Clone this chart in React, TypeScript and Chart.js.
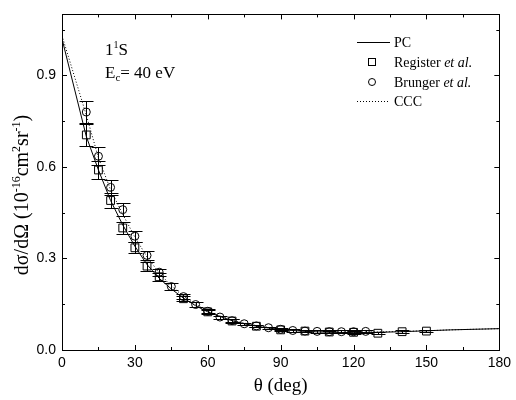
import React, { useEffect, useRef } from 'react';
import { Chart, registerables } from 'chart.js';
Chart.register(...registerables);

// ---- data ----
const pcAngles = [0, 10, 15, 20, 25, 30, 35, 40, 45, 50, 55, 60, 65, 70, 75, 80, 85, 90, 100, 110, 120, 130, 140, 150, 160, 170, 180];
const pcValues = [1.02, 0.70, 0.59, 0.49, 0.41, 0.34, 0.28, 0.235, 0.20, 0.17, 0.145, 0.125, 0.11, 0.096, 0.086, 0.078, 0.072, 0.067, 0.061, 0.058, 0.057, 0.058, 0.06, 0.063, 0.066, 0.068, 0.07];

const cccAngles = [0, 10, 15, 20, 25, 30, 35, 40, 45, 50, 55, 60, 65, 70, 75, 80, 85, 90, 100, 110, 120, 130, 140, 150, 160, 170, 180];
const cccValues = [1.03, 0.77, 0.63, 0.525, 0.445, 0.37, 0.305, 0.253, 0.21, 0.176, 0.15, 0.128, 0.112, 0.098, 0.088, 0.08, 0.074, 0.068, 0.063, 0.06, 0.059, 0.059, 0.061, 0.063, 0.066, 0.068, 0.07];

const registerAngles = [10, 15, 20, 25, 30, 35, 40, 50, 60, 70, 80, 90, 100, 110, 120, 130, 140, 150];
const registerValues = [0.705, 0.59, 0.49, 0.40, 0.335, 0.275, 0.24, 0.168, 0.125, 0.095, 0.078, 0.066, 0.062, 0.059, 0.058, 0.055, 0.06, 0.062];
const registerErrors = [0.037, 0.03, 0.025, 0.021, 0.018, 0.015, 0.013, 0.009, 0.007, 0.005, 0.004, 0.004, 0.004, 0.004, 0.004, 0.004, 0.004, 0.004];

const brungerAngles = [10, 15, 20, 25, 30, 35, 40, 45, 50, 55, 60, 65, 70, 75, 80, 85, 90, 95, 100, 105, 110, 115, 120, 125];
const brungerValues = [0.78, 0.635, 0.533, 0.46, 0.373, 0.31, 0.255, 0.208, 0.175, 0.149, 0.127, 0.108, 0.096, 0.086, 0.079, 0.073, 0.068, 0.064, 0.062, 0.061, 0.06, 0.06, 0.06, 0.061];
const brungerErrors = [0.036, 0.029, 0.025, 0.022, 0.018, 0.015, 0.012, 0.01, 0.009, 0.007, 0.006, 0.005, 0.005, 0.004, 0.004, 0.004, 0.004, 0.004, 0.004, 0.004, 0.004, 0.004, 0.004, 0.004];

const xMajorTicks = [0, 30, 60, 90, 120, 150, 180];
const xMinorTicks = [15, 45, 75, 105, 135, 165];
const yMajorTicks = [0, 0.3, 0.6, 0.9];
const yMinorTicks = [0.15, 0.45, 0.75, 1.05];

const SERIF = '"Liberation Serif", "DejaVu Serif", serif';
const SANS = '"Liberation Sans", Arial, sans-serif';

const zip = (xs: number[], ys: number[]) => xs.map((x, i) => ({ x, y: ys[i] }));

const drawRich = (ctx: CanvasRenderingContext2D, parts: { t: string; size: number; dy: number; italic?: boolean }[], x: number, y: number, measureOnly = false) => {
  let cx = x;
  for (const p of parts) {
    ctx.font = `${p.italic ? 'italic ' : ''}${p.size}px ${SERIF}`;
    if (!measureOnly) ctx.fillText(p.t, cx, y + p.dy);
    cx += ctx.measureText(p.t).width;
  }
  return cx - x;
};

const customPlugin = {
  id: 'custom',
  afterDatasetsDraw(chart: any) {
    const { ctx, scales } = chart;
    const xs = scales.x, ys = scales.y;
    ctx.save();
    ctx.strokeStyle = '#000';
    ctx.lineWidth = 1;
    chart.data.datasets.forEach((ds: any) => {
      if (!ds.errors) return;
      ds.data.forEach((p: any, j: number) => {
        const e = ds.errors[j];
        const px = Math.round(xs.getPixelForValue(p.x)) + 0.5;
        const t = Math.round(ys.getPixelForValue(p.y + e)) + 0.5;
        const b = Math.round(ys.getPixelForValue(p.y - e)) + 0.5;
        ctx.beginPath();
        ctx.moveTo(px, t); ctx.lineTo(px, b);
        ctx.moveTo(px - 7, t); ctx.lineTo(px + 7, t);
        ctx.moveTo(px - 7, b); ctx.lineTo(px + 7, b);
        ctx.stroke();
      });
    });
    ctx.restore();
  },
  afterDraw(chart: any) {
    const { ctx, chartArea: a, scales } = chart;
    const xs = scales.x, ys = scales.y;
    ctx.save();
    ctx.strokeStyle = '#000';
    ctx.fillStyle = '#000';
    ctx.lineWidth = 1;
    // frame
    ctx.strokeRect(Math.round(a.left) + 0.5, Math.round(a.top) + 0.5, Math.round(a.right - a.left), Math.round(a.bottom - a.top));
    // ticks
    ctx.beginPath();
    const xt = (v: number, len: number) => {
      const px = Math.round(xs.getPixelForValue(v)) + 0.5;
      ctx.moveTo(px, a.bottom); ctx.lineTo(px, a.bottom - len);
      ctx.moveTo(px, a.top); ctx.lineTo(px, a.top + len);
    };
    const yt = (v: number, len: number) => {
      const py = Math.round(ys.getPixelForValue(v)) + 0.5;
      ctx.moveTo(a.left, py); ctx.lineTo(a.left + len, py);
      ctx.moveTo(a.right, py); ctx.lineTo(a.right - len, py);
    };
    xMajorTicks.forEach(v => xt(v, 5));
    xMinorTicks.forEach(v => xt(v, 3));
    yMajorTicks.forEach(v => yt(v, 5));
    yMinorTicks.forEach(v => yt(v, 3));
    ctx.stroke();

    ctx.textBaseline = 'alphabetic';
    ctx.textAlign = 'left';
    // x title
    ctx.font = `19px ${SERIF}`;
    ctx.textAlign = 'center';
    ctx.fillText('θ (deg)', (a.left + a.right) / 2, 391);
    ctx.textAlign = 'left';

    // y title (rotated)
    const yParts = [
      { t: 'dσ/dΩ (10', size: 20, dy: 0 },
      { t: '-16', size: 12, dy: -8 },
      { t: 'cm', size: 20, dy: 0 },
      { t: '2', size: 12, dy: -8 },
      { t: 'sr', size: 20, dy: 0 },
      { t: '-1', size: 12, dy: -8 },
      { t: ')', size: 20, dy: 0 },
    ];
    const w = drawRich(ctx, yParts, 0, 0, true);
    ctx.save();
    ctx.translate(28, 195);
    ctx.rotate(-Math.PI / 2);
    drawRich(ctx, yParts, -w / 2, 0);
    ctx.restore();

    // annotation
    drawRich(ctx, [
      { t: '1', size: 17, dy: 0 },
      { t: '1', size: 10, dy: -7 },
      { t: 'S', size: 17, dy: 0 },
    ], 105, 55);
    drawRich(ctx, [
      { t: 'E', size: 17, dy: 0 },
      { t: 'c', size: 11, dy: 3 },
      { t: '= 40 eV', size: 17, dy: 0 },
    ], 105, 78);

    // legend
    const lx0 = 357, lx1 = 390, tx = 394;
    const rows = [42, 62, 82, 101];
    ctx.beginPath();
    ctx.moveTo(lx0, rows[0] + 0.5); ctx.lineTo(lx1, rows[0] + 0.5);
    ctx.stroke();
    ctx.strokeRect(368.5, rows[1] - 3.5, 7, 7);
    ctx.beginPath();
    ctx.arc(372, rows[2], 3.5, 0, Math.PI * 2);
    ctx.stroke();
    ctx.save();
    ctx.setLineDash([1, 2]);
    ctx.beginPath();
    ctx.moveTo(lx0, rows[3] + 0.5); ctx.lineTo(lx1, rows[3] + 0.5);
    ctx.stroke();
    ctx.restore();
    const base = 5;
    const fs = 14;
    drawRich(ctx, [{ t: 'PC', size: fs, dy: 0 }], tx, rows[0] + base);
    drawRich(ctx, [{ t: 'Register ', size: fs, dy: 0 }, { t: 'et al.', size: fs, dy: 0, italic: true }], tx, rows[1] + base);
    drawRich(ctx, [{ t: 'Brunger ', size: fs, dy: 0 }, { t: 'et al.', size: fs, dy: 0, italic: true }], tx, rows[2] + base);
    drawRich(ctx, [{ t: 'CCC', size: fs, dy: 0 }], tx, rows[3] + base);
    ctx.restore();
  },
};

export default function App() {
  const ref = useRef<HTMLCanvasElement>(null);
  useEffect(() => {
    if (!ref.current) return;
    const chart = new Chart(ref.current, {
      type: 'scatter',
      data: {
        datasets: [
          {
            label: 'PC', data: zip(pcAngles, pcValues), showLine: true, borderColor: '#000', borderWidth: 1,
            pointRadius: 0, tension: 0, fill: false,
          },
          {
            label: 'CCC', data: zip(cccAngles, cccValues), showLine: true, borderColor: '#000', borderWidth: 1,
            borderDash: [1, 2], pointRadius: 0, tension: 0, fill: false,
          },
          {
            label: 'Register et al.', data: zip(registerAngles, registerValues), errors: registerErrors,
            showLine: false, pointStyle: 'rect', pointRadius: 5.5, borderColor: '#000', borderWidth: 1,
            backgroundColor: 'rgba(0,0,0,0)',
          } as any,
          {
            label: 'Brunger et al.', data: zip(brungerAngles, brungerValues), errors: brungerErrors,
            showLine: false, pointStyle: 'circle', pointRadius: 4, borderColor: '#000', borderWidth: 1,
            backgroundColor: 'rgba(0,0,0,0)',
          } as any,
        ],
      },
      options: {
        animation: false,
        responsive: false,
        layout: { padding: { top: 12, right: 14, left: 0, bottom: 0 } },
        plugins: { legend: { display: false }, tooltip: { enabled: false } },
        scales: {
          x: {
            type: 'linear', min: 0, max: 180,
            grid: { display: false, drawTicks: false },
            border: { display: false },
            ticks: { stepSize: 30, padding: 5, color: '#000', font: { family: SANS, size: 14 }, maxRotation: 0 },
            afterFit: (s: any) => { s.height = 50; },
          },
          y: {
            type: 'linear', min: 0, max: 1.1,
            grid: { display: false, drawTicks: false },
            border: { display: false },
            ticks: {
              stepSize: 0.3, includeBounds: false, padding: 6, color: '#000', font: { family: SANS, size: 14 },
              callback: (v: any) => Number(v).toFixed(1),
            },
            afterFit: (s: any) => { s.width = 62; },
          },
        },
      },
      plugins: [customPlugin],
    } as any);
    return () => chart.destroy();
  }, []);
  return (
    <div style={{ position: 'fixed', left: 0, top: 0, width: 516, height: 400, background: '#fff' }}>
      <canvas ref={ref} width={516} height={400} style={{ display: 'block' }} />
    </div>
  );
}
